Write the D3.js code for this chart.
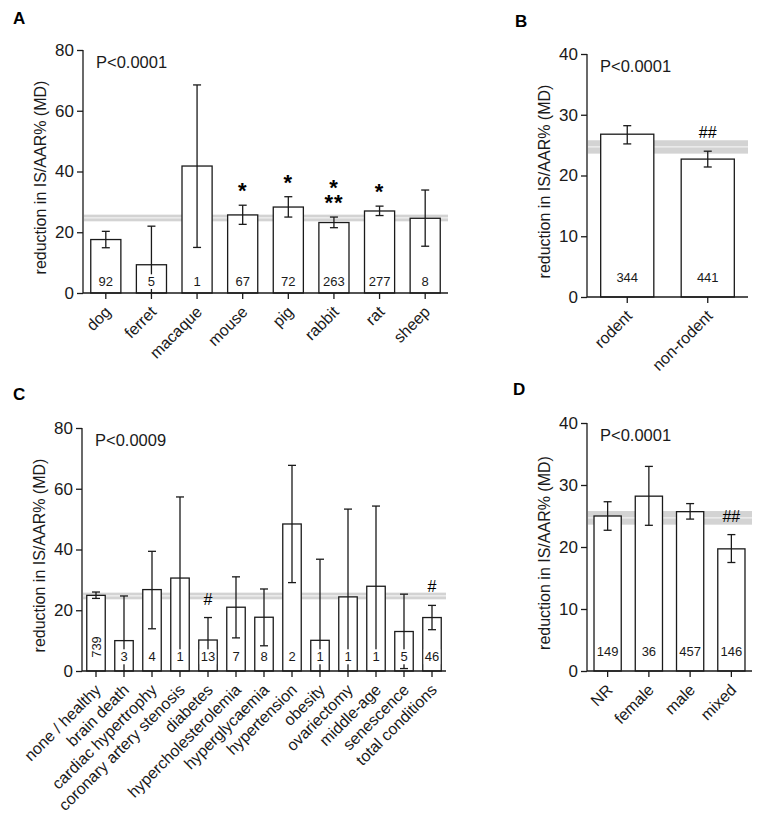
<!DOCTYPE html>
<html>
<head>
<meta charset="utf-8">
<title>Reduction in IS/AAR%</title>
<script src="https://d3js.org/d3.v7.min.js"></script>
<style>
  body { margin: 0; background: #fff; }
  svg { font-family: "Liberation Sans", Arial, sans-serif; }
</style>
</head>
<body>
<svg id="chart" width="768" height="824"></svg>
<script>
// pooled estimate band (shown in every panel)
const bandLo = 23.6;
const bandHi = 25.8;
const bandMid = 24.7;

// A: species
const speciesCats = ["dog", "ferret", "macaque", "mouse", "pig", "rabbit", "rat", "sheep"];
const speciesMean = [17.6, 9.3, 41.8, 25.7, 28.3, 23.2, 27.0, 24.6];
const speciesLo = [14.9, -3.4, 15.0, 22.6, 25.0, 21.5, 25.5, 15.4];
const speciesHi = [20.3, 22.0, 68.5, 28.9, 31.7, 25.0, 28.6, 33.9];
const speciesN = [92, 5, 1, 67, 72, 263, 277, 8];
const speciesSig = ["", "", "", "*", "*", "*|**", "*", ""];

// B: rodent vs non-rodent
const rodentCats = ["rodent", "non-rodent"];
const rodentMean = [26.8, 22.7];
const rodentLo = [25.2, 21.4];
const rodentHi = [28.2, 24.0];
const rodentN = [344, 441];
const rodentSig = ["", "##"];

// C: comorbidities
const condCats = ["none / healthy", "brain death", "cardiac hypertrophy", "coronary artery stenosis",
  "diabetes", "hypercholesterolemia", "hyperglycaemia", "hypertension", "obesity",
  "ovariectomy", "middle-age", "senescence", "total conditions"];
const condMean = [24.9, 10.0, 26.8, 30.6, 10.2, 21.0, 17.7, 48.4, 10.1, 24.4, 27.9, 13.0, 17.6];
const condLo = [23.9, -4.7, 13.9, 3.9, 3.0, 10.9, 8.3, 29.1, -16.4, -4.4, 3.5, 0.8, 13.6];
const condHi = [26.0, 24.7, 39.4, 57.3, 17.6, 31.0, 27.0, 67.7, 36.8, 53.3, 54.3, 25.3, 21.6];
const condN = [739, 3, 4, 1, 13, 7, 8, 2, 1, 1, 1, 5, 46];
const condSig = ["", "", "", "", "#", "", "", "", "", "", "", "", "#"];

// D: sex
const sexCats = ["NR", "female", "male", "mixed"];
const sexMean = [25.0, 28.2, 25.7, 19.7];
const sexLo = [22.7, 23.5, 24.5, 17.5];
const sexHi = [27.3, 33.0, 27.0, 22.0];
const sexN = [149, 36, 457, 146];
const sexSig = ["", "", "", "##"];

const svg = d3.select("#chart");

const panels = [
  {letter: "A", lx: 13, ly: 24, cats: speciesCats, mean: speciesMean, lo: speciesLo, hi: speciesHi,
   n: speciesN, sig: speciesSig, p: "P<0.0001", x0: 83, x1: 448, y0: 293, y1: 50, max: 80, step: 20,
   nOff: 7, vertN: []},
  {letter: "B", lx: 515, ly: 27, cats: rodentCats, mean: rodentMean, lo: rodentLo, hi: rodentHi,
   n: rodentN, sig: rodentSig, p: "P<0.0001", x0: 587, x1: 748, y0: 297, y1: 54, max: 40, step: 10,
   nOff: 15, vertN: []},
  {letter: "C", lx: 13, ly: 400, cats: condCats, mean: condMean, lo: condLo, hi: condHi,
   n: condN, sig: condSig, p: "P<0.0009", x0: 82, x1: 446, y0: 671, y1: 428, max: 80, step: 20,
   nOff: 10, vertN: [0]},
  {letter: "D", lx: 513, ly: 395, cats: sexCats, mean: sexMean, lo: sexLo, hi: sexHi,
   n: sexN, sig: sexSig, p: "P<0.0001", x0: 587, x1: 752, y0: 671, y1: 423, max: 40, step: 10,
   nOff: 15, vertN: []}
];

panels.forEach(drawPanel);

function drawPanel(cfg) {
  const g = svg.append("g");

  const x = d3.scaleBand()
      .domain(cfg.cats)
      .range([cfg.x0, cfg.x1])
      .paddingInner(0.34)
      .paddingOuter(0.17);

  const y = d3.scaleLinear()
      .domain([0, cfg.max])
      .range([cfg.y0, cfg.y1]);

  const rows = cfg.cats.map((c, i) => ({
    cat: c, mean: cfg.mean[i], lo: cfg.lo[i], hi: cfg.hi[i], n: cfg.n[i], sig: cfg.sig[i], i: i
  }));

  const mid = d => x(d.cat) + x.bandwidth() / 2;

  // panel letter
  g.append("text")
      .attr("x", cfg.lx)
      .attr("y", cfg.ly)
      .attr("font-size", 17)
      .attr("font-weight", "bold")
      .text(cfg.letter);

  // pooled band behind bars
  g.append("rect")
      .attr("x", cfg.x0 + 1)
      .attr("width", cfg.x1 - cfg.x0 - 1)
      .attr("y", y(bandHi))
      .attr("height", y(bandLo) - y(bandHi))
      .attr("fill", "#d3d3d3");

  g.append("line")
      .attr("x1", cfg.x0 + 1)
      .attr("x2", cfg.x1)
      .attr("y1", y(bandMid))
      .attr("y2", y(bandMid))
      .attr("stroke", "#f2f2f2")
      .attr("stroke-width", 1.2);

  // bars
  g.selectAll(".bar")
      .data(rows)
    .enter().append("rect")
      .attr("class", "bar")
      .attr("x", d => x(d.cat))
      .attr("width", x.bandwidth())
      .attr("y", d => y(d.mean))
      .attr("height", d => y(0) - y(d.mean))
      .attr("fill", "#fff")
      .attr("stroke", "#1a1a1a")
      .attr("stroke-width", 1.3);

  // error bars
  const cap = 4;
  const err = g.selectAll(".err")
      .data(rows)
    .enter().append("g")
      .attr("class", "err")
      .attr("stroke", "#1a1a1a")
      .attr("stroke-width", 1.3);

  err.append("line")
      .attr("x1", mid)
      .attr("x2", mid)
      .attr("y1", d => y(d.hi))
      .attr("y2", d => y(Math.max(d.lo, 0)));

  err.append("line")
      .attr("x1", d => mid(d) - cap)
      .attr("x2", d => mid(d) + cap)
      .attr("y1", d => y(d.hi))
      .attr("y2", d => y(d.hi));

  err.filter(d => d.lo > 0).append("line")
      .attr("x1", d => mid(d) - cap)
      .attr("x2", d => mid(d) + cap)
      .attr("y1", d => y(d.lo))
      .attr("y2", d => y(d.lo));

  // n labels with a white box behind them
  rows.forEach(d => {
    const cx = mid(d);
    const vertical = cfg.vertN.indexOf(d.i) >= 0;
    const label = g.append("g");
    const t = label.append("text")
        .attr("font-size", 13)
        .attr("text-anchor", "middle")
        .attr("fill", "#1a1a1a")
        .text(d.n);
    if (vertical) {
      t.attr("transform", "translate(" + (cx + 4.5) + "," + (cfg.y0 - 24) + ")rotate(-90)");
    } else {
      t.attr("x", cx).attr("y", cfg.y0 - cfg.nOff);
    }
    const bb = t.node().getBBox();
    let bw = bb.width + 2, bh = bb.height;
    if (vertical) { const tmp = bw; bw = bh; bh = tmp + 2; }
    const bx = cx - bw / 2;
    const by = vertical ? cfg.y0 - 24 - bh / 2 : cfg.y0 - cfg.nOff - bb.height * 0.78;
    label.insert("rect", "text")
        .attr("x", bx)
        .attr("y", by)
        .attr("width", bw)
        .attr("height", Math.min(bh, cfg.y0 - 4 - by))
        .attr("fill", "#fff");
  });

  // significance marks
  rows.filter(d => d.sig).forEach(d => {
    const cx = mid(d);
    const top = y(Math.max(d.hi, d.mean));
    const parts = d.sig.split("|");
    const isStar = d.sig.indexOf("*") >= 0;
    const t = g.append("text")
        .attr("text-anchor", "middle")
        .attr("font-size", isStar ? 22 : 16)
        .attr("font-weight", isStar ? "bold" : "normal")
        .attr("letter-spacing", isStar ? 1 : 0);
    parts.forEach((s, k) => {
      t.append("tspan")
          .attr("x", cx)
          .attr("y", isStar ? top - 7 - (parts.length - 1 - k) * 15 : top - 13)
          .text(s);
    });
  });

  // y axis
  const yAxis = g.append("g")
      .attr("transform", "translate(" + cfg.x0 + ",0)")
      .call(d3.axisLeft(y).tickValues(d3.range(0, cfg.max + 1, cfg.step)).tickSize(6).tickPadding(3));
  yAxis.selectAll("text").attr("font-size", 17).attr("fill", "#1a1a1a");
  yAxis.select(".domain").attr("d", "M0," + cfg.y0 + "V" + cfg.y1);
  yAxis.selectAll("line, path").attr("stroke", "#1a1a1a").attr("stroke-width", 1.3);

  // x axis
  const xAxis = g.append("g")
      .attr("transform", "translate(0," + cfg.y0 + ")")
      .call(d3.axisBottom(x).tickSize(6).tickFormat(""));
  xAxis.select(".domain").attr("d", "M" + cfg.x0 + ",0H" + cfg.x1);
  xAxis.selectAll("line, path").attr("stroke", "#1a1a1a").attr("stroke-width", 1.3);

  g.selectAll(".cat")
      .data(cfg.cats)
    .enter().append("text")
      .attr("class", "cat")
      .attr("transform", d => "translate(" + (x(d) + x.bandwidth() / 2 + 2) + "," + (cfg.y0 + 16) + ")rotate(-45)")
      .attr("text-anchor", "end")
      .attr("dy", "0.35em")
      .attr("font-size", 16)
      .attr("fill", "#1a1a1a")
      .text(d => d);

  // y title
  g.append("text")
      .attr("transform", "translate(" + (cfg.x0 - 37) + "," + ((cfg.y0 + cfg.y1) / 2 + 6) + ")rotate(-90)")
      .attr("text-anchor", "middle")
      .attr("font-size", 16)
      .attr("fill", "#1a1a1a")
      .text("reduction in IS/AAR% (MD)");

  // p value
  g.append("text")
      .attr("x", cfg.x0 + 13)
      .attr("y", cfg.y1 + 18)
      .attr("font-size", 16.5)
      .attr("fill", "#1a1a1a")
      .text(cfg.p);
}
</script>
</body>
</html>
